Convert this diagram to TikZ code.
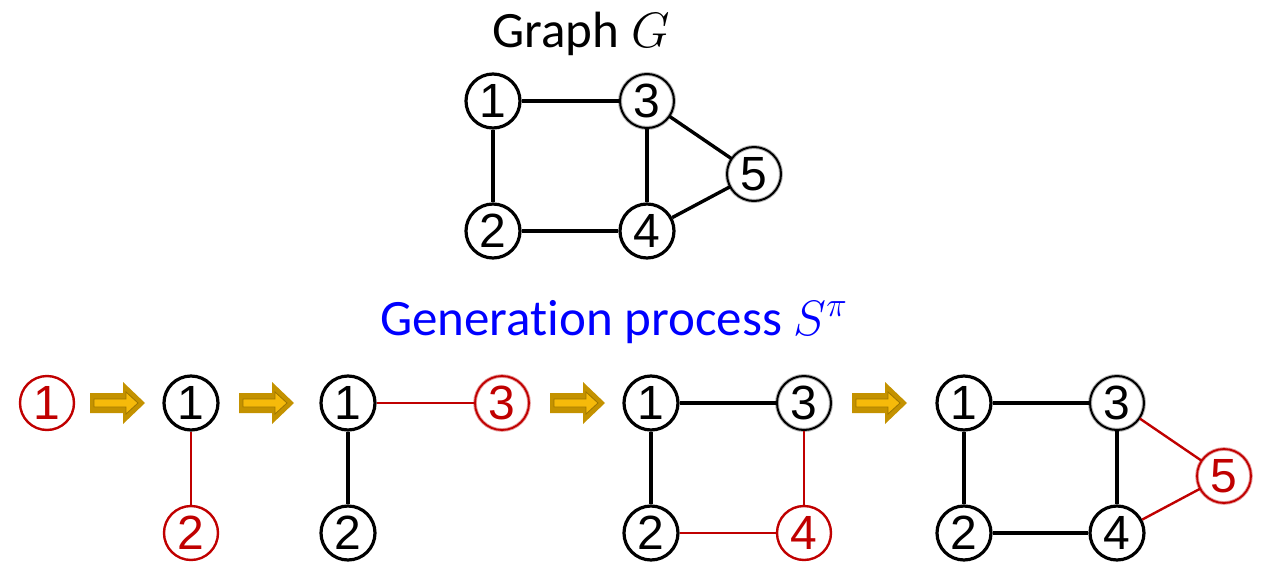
\documentclass[tikz,border=0pt]{standalone}
\usepackage{fontspec}
\setmainfont{Liberation Sans}
\newfontfamily\titlefont[RawFeature={-liga;-clig;-dlig;-calt}]{Carlito}
\definecolor{myred}{RGB}{192,0,0}
\definecolor{goldout}{RGB}{196,146,0}
\definecolor{goldin}{RGB}{246,186,10}
\begin{document}
\begin{tikzpicture}[x=0.5pt,y=-0.5pt,
  nd/.style={circle,draw=black,line width=1.6pt,minimum size=27pt,inner sep=0pt,
    font=\fontsize{24}{24}\selectfont},
  rnd/.style={nd,draw=myred,text=myred,line width=1.2pt},
  dnd/.style={nd,draw=gray!55,line width=0.5pt,double=black,double distance=1pt},
  rdnd/.style={nd,text=myred,draw=myred!40,line width=0.45pt,double=myred,double distance=0.9pt},
  ed/.style={line width=1.7pt},
  redge/.style={line width=1.2pt,draw=myred},
  garrow/.pic={
    \fill[goldout] (0,-10) -- (33,-10) -- (33,-21) -- (55,0) -- (33,21) -- (33,10) -- (0,10) -- cycle;
    \filldraw[fill=goldin,draw=goldout!80!black,line width=0.4pt]
      (4,-4) -- (36,-4) -- (36,-11) -- (48,0) -- (36,11) -- (36,4) -- (4,4) -- cycle;
  }]
\useasboundingbox (0,0) rectangle (1276,584);

% titles
\node[anchor=base,font=\titlefont\fontsize{25.5}{30}\selectfont] (tg) at (581,47) {Graph $G$};
\node[anchor=base,text=blue,font=\titlefont\fontsize{25.5}{30}\selectfont] (tp) at (614,335) {Generation process $S^{\pi}$};

% Graph G
\node[nd]  (g1) at (493,101) {1};
\node[dnd] (g3) at (647,101) {3};
\node[nd]  (g2) at (493,231) {2};
\node[nd]  (g4) at (647,231) {4};
\node[dnd] (g5) at (754,174) {5};
\draw[ed] (g1) -- (g3);
\draw[ed] (g1) -- (g2);
\draw[ed] (g2) -- (g4);
\draw[ed] (g3) -- (g4);
\draw[ed] (g3) -- (g5);
\draw[ed] (g4) -- (g5);

% stage 1
\node[rnd] (a1) at (47,403) {1};
\pic at (90,403) {garrow};

% stage 2
\node[nd]  (b1) at (191,403) {1};
\node[rnd] (b2) at (191,533) {2};
\draw[redge] (b1) -- (b2);
\pic at (239,403) {garrow};

% stage 3
\node[nd]   (c1) at (348,403) {1};
\node[rdnd] (c3) at (502,403) {3};
\node[nd]   (c2) at (348,533) {2};
\draw[ed] (c1) -- (c2);
\draw[redge] (c1) -- (c3);
\pic at (550,403) {garrow};

% stage 4
\node[nd]  (d1) at (651,403) {1};
\node[dnd] (d3) at (804,403) {3};
\node[nd]  (d2) at (651,533) {2};
\node[rnd] (d4) at (804,533) {4};
\draw[ed] (d1) -- (d3);
\draw[ed] (d1) -- (d2);
\draw[redge] (d2) -- (d4);
\draw[redge] (d3) -- (d4);
\pic at (852,403) {garrow};

% stage 5
\node[nd]   (e1) at (964,403) {1};
\node[dnd]  (e3) at (1117,403) {3};
\node[nd]   (e2) at (964,533) {2};
\node[nd]   (e4) at (1117,533) {4};
\node[rdnd] (e5) at (1224,476) {5};
\draw[ed] (e1) -- (e3);
\draw[ed] (e1) -- (e2);
\draw[ed] (e2) -- (e4);
\draw[ed] (e3) -- (e4);
\draw[redge] (e3) -- (e5);
\draw[redge] (e4) -- (e5);
\end{tikzpicture}
\end{document}
